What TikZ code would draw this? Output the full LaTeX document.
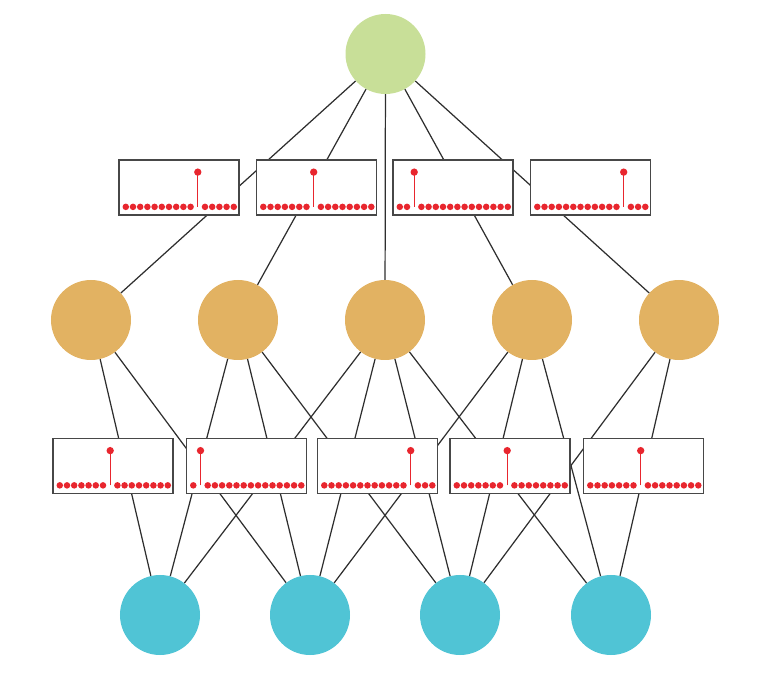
\documentclass[tikz,border=0pt]{standalone}
\usepackage{xcolor}
\usepackage{tikz}
\usetikzlibrary{calc}
\definecolor{topgreen}{HTML}{C8DF98}
\definecolor{midorange}{HTML}{E2B262}
\definecolor{lowblue}{HTML}{50C4D5}
\definecolor{dotred}{HTML}{E8262E}

\begin{document}
\begin{tikzpicture}[x=0.03cm,y=0.03cm,
  unit/.style={circle, minimum size=2.4cm, inner sep=0pt},
  filt/.style={draw=black!72, line width=1.2pt, fill=white, minimum width=3.6cm, minimum height=1.66cm, inner sep=0pt},
  link/.style={draw=black!82, line width=1.05pt}]
\useasboundingbox (0,0) rectangle (779,694);
% units
\node[unit, fill=topgreen] (out) at (385.5,640) {};
\foreach \i/\x in {1/91,2/238,3/385,4/532,5/679}
  \node[unit, fill=midorange] (h\i) at (\x,374) {};
\foreach \j/\x in {1/160,2/310,3/460,4/611}
  \node[unit, fill=lowblue] (in\j) at (\x,79) {};
% links (filters are drawn over them)
\foreach \i in {1,...,5}
  \draw[link] (out) -- (h\i);
\foreach \i/\j in {1/1,1/2,2/1,2/2,2/3,3/1,3/2,3/3,3/4,4/2,4/3,4/4,5/3,5/4}
  \draw[link] (h\i) -- (in\j);
% upper filters: name / x / spike position
\foreach \i/\x/\s in {1/179/10,2/316.5/7,3/453/2,4/590.5/12}{
  \node[filt] (fa\i) at (\x,506.5) {};
  \foreach \k in {0,...,15}{
    \ifnum\k=\s\relax\else
      \fill[dotred] ($(fa\i.south west)+(7.5+7.2*\k,9)$) circle[radius=0.098cm];
    \fi}
  \draw[dotred, line width=1.1pt] ($(fa\i.south west)+(7.5+7.2*\s,9)$) -- ($(fa\i.north west)+(7.5+7.2*\s,-13)$) coordinate (tipa\i);
  \fill[dotred] (tipa\i) circle[radius=0.11cm];
}
% lower filters
\foreach \i/\x/\s in {1/113/7,2/246.5/1,3/377.5/12,4/510/7,5/643.5/7}{
  \node[filt] (fb\i) at (\x,228) {};
  \foreach \k in {0,...,15}{
    \ifnum\k=\s\relax\else
      \fill[dotred] ($(fb\i.south west)+(7.5+7.2*\k,9)$) circle[radius=0.098cm];
    \fi}
  \draw[dotred, line width=1.1pt] ($(fb\i.south west)+(7.5+7.2*\s,9)$) -- ($(fb\i.north west)+(7.5+7.2*\s,-13)$) coordinate (tipb\i);
  \fill[dotred] (tipb\i) circle[radius=0.11cm];
}
\end{tikzpicture}
\end{document}
